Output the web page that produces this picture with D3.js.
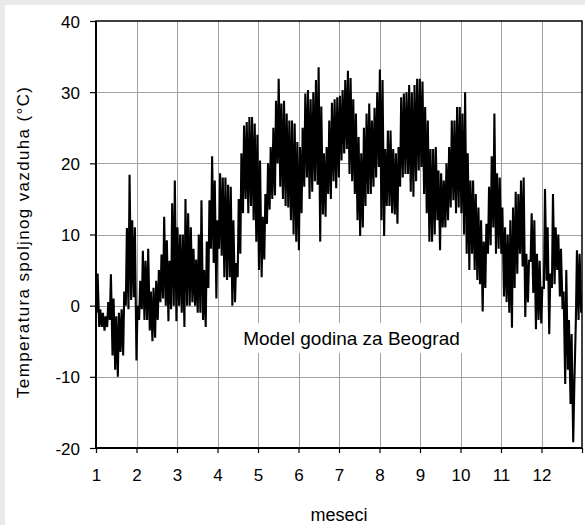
<!DOCTYPE html>
<html>
<head>
<meta charset="utf-8">
<script src="https://cdn.jsdelivr.net/npm/d3@7"></script>
<style>
  body { margin: 0; background: #e9e9e9; }
  svg { display: block; }
  text { font-family: "Liberation Sans", Arial, sans-serif; fill: #000; }
</style>
</head>
<body>
<svg id="chart" width="585" height="525"></svg>
<script>
// ---- data (2-day bins, daily low / high in °C) ----
const monthTicks = [1, 2, 3, 4, 5, 6, 7, 8, 9, 10, 11, 12];
const tempTicks = [-20, -10, 0, 10, 20, 30, 40];
const xLabel = "meseci";
const yLabel = "Temperatura spoljnog vazduha (°C)";
const noteText = "Model godina za Beograd";

const highs = [
  4.5, -0.5, -1, -1.5, 0.5, 4.4, 1, -1.5, -1, -0.5,
  2, 10.9, 18.4, 12, 11, 0, 3.5, 7.7, 6.3, 8,
  2, 2.5, 3.5, 5, 7.2, 12.5, 9.2, 6.3, 14.4, 17.6,
  11, 10, 10, 15, 13, 11, 8, 6.5, 10, 14.8,
  5, 9, 14.8, 21, 17.6, 12, 18.6, 18, 18, 17,
  16.7, 12, 6, 15, 21.4, 25.3, 25.8, 26.5, 26.5, 25.6,
  24, 20.4, 12.5, 15.7, 20, 22.3, 25, 28.8, 31.9, 28.4,
  28.8, 27, 26, 26, 25.6, 23, 22.3, 25, 29.8, 30.3,
  29, 30, 31.7, 33.5, 28, 21.4, 22.3, 26, 28.5, 29,
  29.3, 29.5, 30.3, 31.7, 33, 32, 29, 27, 23.7, 21.4,
  25, 27, 28.4, 26, 27.8, 30, 33.2, 31.7, 22, 24.6,
  24.6, 22, 21.4, 22.3, 29.3, 29.8, 30, 31, 30, 31,
  31.9, 31.9, 31.5, 27.9, 26, 22, 22, 22.3, 19, 18.6,
  17.6, 20, 22.3, 26, 26, 27.9, 27.9, 27, 30, 21.4,
  17.6, 17.6, 15.7, 13.8, 12, 9, 11.5, 16.7, 21, 27,
  18.6, 18, 13.8, 11, 10, 12, 13.8, 16, 15.7, 17.6,
  18, 7.3, 6.3, 13, 12, 7.3, 6.3, 2.5, 16.4, 11,
  4.5, 15.7, 11, 10, 8, 2, 5, -2, -4, -11.5,
  7.8, 7.3, 1.5
];
const lows = [
  -1, -3, -3, -3.5, -3, -2, -7, -9, -10, -6.5,
  -7, 0, -0.5, 0.8, 1.2, -7.7, -2, -0.5, -2, -2,
  -3.5, -5, -4.5, -2, 0.5, 1, 0, -2.2, -0.5, 0,
  -2.2, 0, -1, -3, 0, 0, 0.5, 0, -1, -1,
  -2, -3, 2.5, 8, 6, 1, 8, 7, 4, 3.6,
  4, 0, 0.5, 4, 7.3, 13, 15, 13, 14, 12,
  9, 5, 4, 6.5, 11.5, 13.5, 15, 15.5, 20, 16.7,
  15, 14, 13.8, 12, 10, 9, 7.8, 13, 16.7, 18,
  15, 16, 17.5, 17, 9, 12.8, 12.5, 15.7, 15, 17.5,
  16.5, 18, 20.4, 21.4, 22, 18.5, 17.5, 15.7, 12, 9.8,
  11, 14, 15.7, 15.7, 16.7, 18, 19.5, 12, 9.8, 14,
  14, 13, 12.8, 11.5, 16.7, 18, 18.5, 18.5, 16, 15.3,
  17.5, 19, 19.5, 15.7, 13, 9, 9, 10, 12, 7.8,
  11, 11, 12, 13.8, 14.8, 13, 13.8, 13, 10, 7.3,
  5, 7.3, 5, 3.6, 3, -0.8, 2.5, 7.3, 8.5, 11,
  7.3, 8, 7.3, 1.3, 0.5, -1, -3.1, 2.5, 4.5, 7.3,
  5.5, -1.6, 0.5, 6.3, 1.8, -3.3, -2, -2.5, 2.5, 3.5,
  -4, 2.5, 3, 5, 1.3, -0.5, -11, -9, -13.8, -19.2,
  -2, -2, -1
];

// ---- layout ----
const svg = d3.select("#chart");
const W = 585, H = 525;
const L = 96, R = 582, T = 21, B = 448;

svg.append("rect").attr("x", 0).attr("y", 0).attr("width", W).attr("height", H).attr("fill", "#e9e9e9");
svg.append("rect").attr("x", 5).attr("y", 5).attr("width", W - 5).attr("height", H - 5).attr("fill", "#ffffff");

const x = d3.scaleLinear().domain([1, 13]).range([L, R]);
const y = d3.scaleLinear().domain([-20, 40]).range([B, T]);

// grid
const grid = svg.append("g").attr("stroke", "#a0a0a0").attr("stroke-width", 1).attr("shape-rendering", "crispEdges");
grid.selectAll("line.v").data(monthTicks.slice(1)).enter().append("line")
  .attr("x1", d => Math.round(x(d)) + 0.5).attr("x2", d => Math.round(x(d)) + 0.5)
  .attr("y1", T).attr("y2", B);
grid.selectAll("line.h").data(tempTicks.slice(1, -1)).enter().append("line")
  .attr("y1", d => Math.round(y(d)) + 0.5).attr("y2", d => Math.round(y(d)) + 0.5)
  .attr("x1", L).attr("x2", R);

// note box (hides grid behind text)
svg.append("rect").attr("x", 238).attr("y", 323).attr("width", 228).attr("height", 30).attr("fill", "#ffffff");
svg.append("text").attr("x", 351.5).attr("y", 345).attr("text-anchor", "middle")
  .attr("font-size", 19).text(noteText);

// data line
const pts = [];
highs.forEach((h, i) => {
  pts.push({ t: 2 * i + 0.4, v: lows[i] });
  pts.push({ t: 2 * i + 1.2, v: h });
});
const dayToMonth = t => 1 + t * 12 / 365;

svg.append("clipPath").attr("id", "clip").append("rect")
  .attr("x", L).attr("y", T).attr("width", R - L).attr("height", B - T);

svg.append("path")
  .datum(pts)
  .attr("clip-path", "url(#clip)")
  .attr("fill", "none")
  .attr("stroke", "#000")
  .attr("stroke-width", 2.1)
  .attr("stroke-linejoin", "miter")
  .attr("stroke-miterlimit", 2)
  .attr("d", d3.line().x(d => x(dayToMonth(d.t))).y(d => y(d.v)));

// frame
svg.append("rect").attr("x", L).attr("y", T).attr("width", R - L).attr("height", B - T)
  .attr("fill", "none").attr("stroke", "#000").attr("stroke-width", 1.5);
svg.append("line").attr("x1", L).attr("x2", L).attr("y1", T).attr("y2", B).attr("stroke", "#000").attr("stroke-width", 2);
svg.append("line").attr("x1", L).attr("x2", R).attr("y1", B).attr("y2", B).attr("stroke", "#000").attr("stroke-width", 2);

// y axis ticks + labels
const yAxis = d3.axisLeft(y).tickValues(tempTicks).tickSize(6).tickPadding(10).tickFormat(d => String(d));
const gy = svg.append("g").attr("transform", `translate(${L},0)`).call(yAxis);
gy.select(".domain").remove();
gy.selectAll(".tick line").attr("stroke", "#000").attr("stroke-width", 1.2);
gy.selectAll(".tick text").attr("font-size", 17).attr("font-family", "Liberation Sans, Arial, sans-serif")
  .attr("x", -16).attr("dy", "0.36em").attr("fill", "#000");

// x axis ticks + labels
const xAxis = d3.axisBottom(x).tickValues(monthTicks.concat([13])).tickSize(5).tickPadding(14)
  .tickFormat(d => (d === 13 ? "" : String(d)));
const gx = svg.append("g").attr("transform", `translate(0,${B})`).call(xAxis);
gx.select(".domain").remove();
gx.selectAll(".tick line").attr("stroke", "#000").attr("stroke-width", 1.2);
gx.selectAll(".tick text").attr("font-size", 17).attr("font-family", "Liberation Sans, Arial, sans-serif")
  .attr("fill", "#000").attr("y", 0).attr("dy", 32.5);

// axis titles
svg.append("text").attr("x", (L + R) / 2).attr("y", 521).attr("text-anchor", "middle")
  .attr("font-size", 18).text(xLabel);
svg.append("text").attr("transform", "translate(29,242.5) rotate(-90)").attr("text-anchor", "middle")
  .attr("font-size", 17).attr("textLength", 311).attr("lengthAdjust", "spacing").text(yLabel);
</script>
</body>
</html>
